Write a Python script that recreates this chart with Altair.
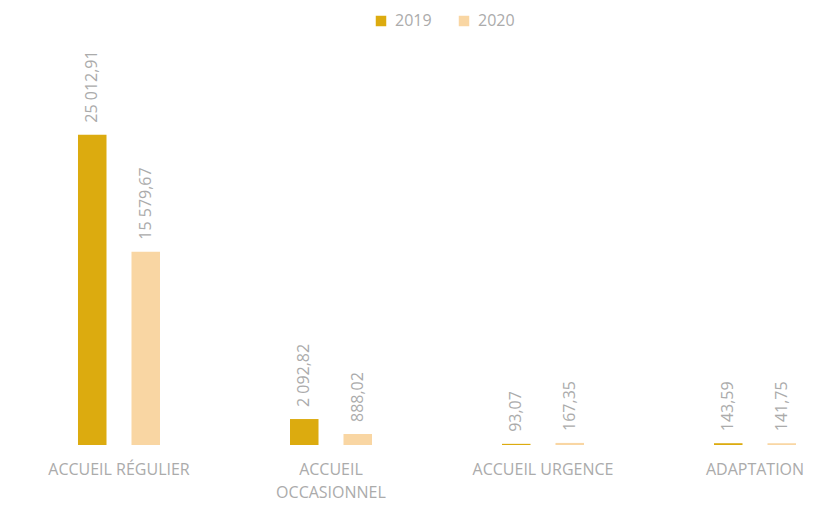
import altair as alt
import pandas as pd

categories = ["ACCUEIL RÉGULIER", "ACCUEIL OCCASIONNEL", "ACCUEIL URGENCE", "ADAPTATION"]
years = ["2019", "2020"]
values_2019 = [25012.91, 2092.82, 93.07, 143.59]
values_2020 = [15579.67, 888.02, 167.35, 141.75]
labels_2019 = ["25 012,91", "2 092,82", "93,07", "143,59"]
labels_2020 = ["15 579,67", "888,02", "167,35", "141,75"]

rows = []
for i, c in enumerate(categories):
    rows.append({"cat": c, "year": "2019", "value": values_2019[i], "label": labels_2019[i]})
    rows.append({"cat": c, "year": "2020", "value": values_2020[i], "label": labels_2020[i]})
df = pd.DataFrame(rows)

GRAY = "#ababab"
FONT = "Open Sans"

x = alt.X("cat:N", sort=categories, title=None,
          scale=alt.Scale(paddingInner=0.434, paddingOuter=0),
          axis=alt.Axis(domain=False, ticks=False, labelAngle=0, labelPadding=16,
                        labelColor=GRAY, labelFont=FONT, labelFontSize=16,
                        labelLimit=400, labelOverlap=False, labelLineHeight=23,
                        labelBaseline="top",
                        labelExpr="datum.label == 'ACCUEIL OCCASIONNEL' ? ['ACCUEIL', 'OCCASIONNEL'] : datum.label"))
xo = alt.XOffset("year:N", sort=years, scale=alt.Scale(paddingInner=0.467, paddingOuter=0.355))
y = alt.Y("value:Q", title=None, scale=alt.Scale(domain=[0, 32000], nice=False),
          axis=None)

bars = alt.Chart(df).mark_bar().encode(
    x=x, xOffset=xo, y=y,
    color=alt.Color("year:N", sort=years,
                    scale=alt.Scale(domain=years, range=["#DCAB0F", "#F9D6A3"]),
                    legend=alt.Legend(title=None, orient="none", direction="horizontal",
                                      legendX=314, legendY=-35, symbolType="square",
                                      symbolSize=110, symbolStrokeWidth=0,
                                      labelColor=GRAY, labelFont=FONT, labelFontSize=16,
                                      columnPadding=24, labelOffset=6)),
)

texts = alt.Chart(df).mark_text(angle=270, align="left", baseline="middle", dx=12,
                                color=GRAY, font=FONT, fontSize=16).encode(
    x=x, xOffset=xo, y=y, text="label:N")

chart = (bars + texts).properties(
    width=756, height=397,
    autosize=alt.AutoSizeParams(type="none"),
    padding={"left": 51, "top": 40, "right": 0, "bottom": 60},
).configure_view(stroke=None)

chart.save("out.html", embed_options={"renderer": "svg", "actions": False})
